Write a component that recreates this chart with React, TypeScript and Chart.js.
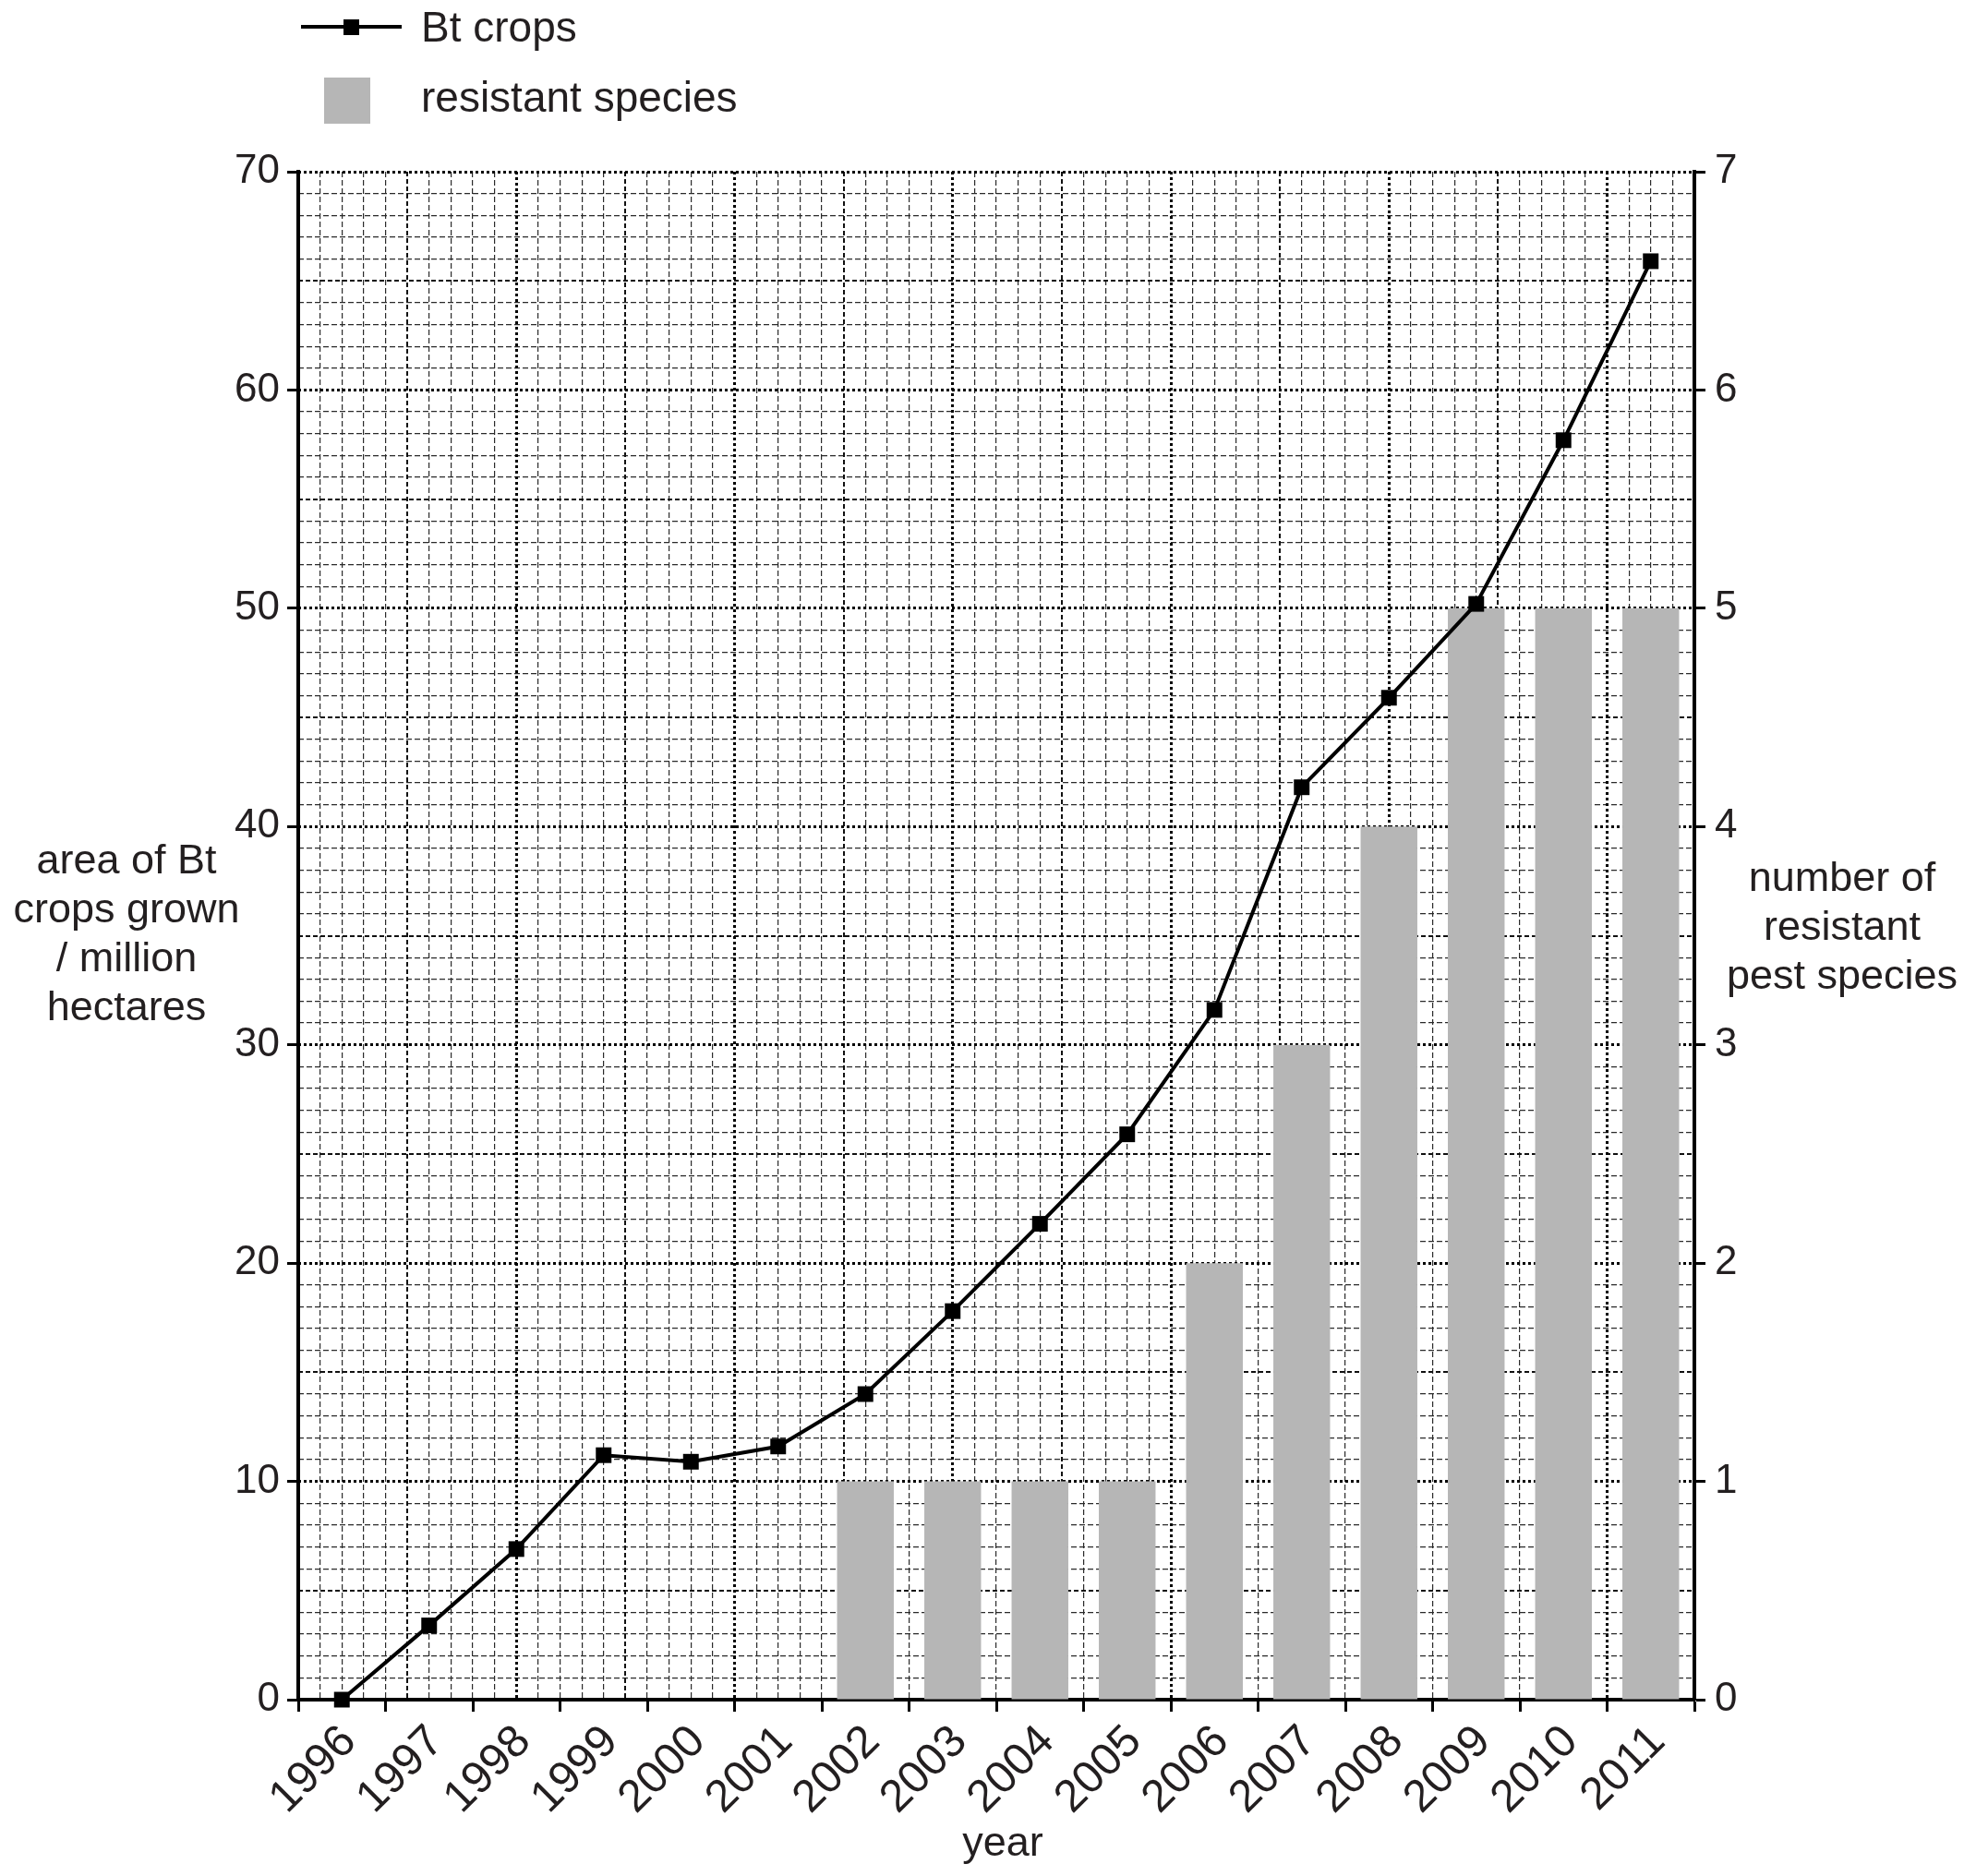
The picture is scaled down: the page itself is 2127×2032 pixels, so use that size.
import React, { useEffect, useRef } from "react";
import { Chart, registerables } from "chart.js";

Chart.register(...registerables);

// ---- data ----
const years = [
  "1996", "1997", "1998", "1999", "2000", "2001", "2002", "2003",
  "2004", "2005", "2006", "2007", "2008", "2009", "2010", "2011",
];
// area of Bt crops grown, million hectares
const btCropArea = [
  0, 3.4, 6.9, 11.2, 10.9, 11.6, 14.0, 17.8,
  21.8, 25.9, 31.6, 41.8, 45.9, 50.2, 57.7, 65.9,
];
// number of resistant pest species
const resistantSpecies = [0, 0, 0, 0, 0, 0, 1, 1, 1, 1, 2, 3, 4, 5, 5, 5];

const areaAxis = { min: 0, max: 70, step: 10 };
const speciesAxis = { min: 0, max: 7, step: 1 };

const seriesLabels = ["Bt crops", "resistant species"];
const leftTitle = ["area of Bt", "crops grown", "/ million", "hectares"];
const rightTitle = ["number of", "resistant", "pest species"];
const xTitle = "year";

// ---- styling ----
const W = 2127;
const H = 2032;
const FONT = "'Liberation Sans', Arial, Helvetica, sans-serif";
const TEXT = "#231f20";
const BAR = "#b6b6b6";
const PLOT = { left: 323, right: 1835, top: 186, bottom: 1841 };
// graph-paper cells across / down the plot
const CELLS_X = 64;
const CELLS_Y = 70;

type GridStyle = { step: number; skip: number; width: number; dash: number[]; color: string };

const gridStyles: GridStyle[] = [
  { step: 1, skip: 5, width: 1.2, dash: [6, 3], color: "#2a2a2a" },
  { step: 5, skip: 10, width: 2, dash: [5, 3], color: "#111111" },
  { step: 10, skip: 0, width: 3, dash: [3, 3], color: "#000000" },
];

function gridAxis(axis: "x" | "y", max: number, g: GridStyle) {
  return {
    type: "linear",
    axis,
    position: axis === "x" ? "bottom" : "left",
    min: 0,
    max,
    offset: false,
    display: true,
    ticks: { display: false, stepSize: g.step, maxTicksLimit: 1000, autoSkip: false },
    border: { display: false, dash: g.dash },
    grid: {
      offset: false,
      drawTicks: false,
      color: g.color,
      lineWidth: (c: any) => {
        if (!c.tick) return g.width;
        const v = Math.round(c.tick.value);
        return g.skip && v % g.skip === 0 ? 0 : g.width;
      },
    },
    afterFit: (s: any) => {
      if (axis === "x") s.height = 0;
      else s.width = 0;
    },
  };
}

const textPlugin = {
  id: "chartTexts",
  afterDraw(chart: any) {
    const ctx: CanvasRenderingContext2D = chart.ctx;
    ctx.save();
    ctx.textBaseline = "alphabetic";

    // legend: line with square marker
    ctx.strokeStyle = "#000";
    ctx.lineWidth = 4;
    ctx.beginPath();
    ctx.moveTo(326, 29);
    ctx.lineTo(435, 29);
    ctx.stroke();
    ctx.fillStyle = "#000";
    ctx.fillRect(372, 21, 17, 17);
    // legend: bar swatch
    ctx.fillStyle = BAR;
    ctx.fillRect(351, 84, 50, 50);

    ctx.fillStyle = TEXT;
    ctx.font = `46px ${FONT}`;
    ctx.textAlign = "left";
    ctx.fillText(seriesLabels[0], 456, 45);
    ctx.fillText(seriesLabels[1], 456, 121);

    // axis titles
    ctx.font = `45px ${FONT}`;
    ctx.textAlign = "center";
    leftTitle.forEach((t, i) => ctx.fillText(t, 137, 946 + i * 53));
    rightTitle.forEach((t, i) => ctx.fillText(t, 1995, 965 + i * 53));
    ctx.fillText(xTitle, 1086, 2010);
    ctx.restore();
  },
};

export default function App() {
  const canvasRef = useRef<HTMLCanvasElement | null>(null);

  useEffect(() => {
    const canvas = canvasRef.current;
    if (!canvas) return;

    const tickFont = { family: FONT, size: 44 };

    const scales: any = {};
    // graph-paper grid, finest first so heavier lines sit on top
    gridStyles.forEach((g, i) => {
      scales[`gx${i}`] = gridAxis("x", CELLS_X, g);
      scales[`gy${i}`] = gridAxis("y", CELLS_Y, g);
    });

    scales.x = {
      type: "category",
      position: "bottom",
      offset: true,
      ticks: {
        font: { family: FONT, size: 49 },
        color: TEXT,
        minRotation: 45,
        maxRotation: 45,
        autoSkip: false,
        padding: 4,
        labelOffset: 8,
      },
      grid: {
        offset: true,
        drawOnChartArea: false,
        tickLength: 13,
        tickWidth: 3,
        tickColor: "#000",
      },
      border: { display: true, width: 4, color: "#000" },
      afterFit: (s: any) => {
        s.height = H - PLOT.bottom;
      },
    };
    scales.y = {
      type: "linear",
      position: "left",
      min: areaAxis.min,
      max: areaAxis.max,
      ticks: { stepSize: areaAxis.step, font: tickFont, color: TEXT, padding: 8 },
      grid: { drawOnChartArea: false, tickLength: 12, tickWidth: 3, tickColor: "#000" },
      border: { display: true, width: 4, color: "#000" },
      afterFit: (s: any) => {
        s.width = PLOT.left;
      },
    };
    scales.y1 = {
      type: "linear",
      position: "right",
      min: speciesAxis.min,
      max: speciesAxis.max,
      ticks: { stepSize: speciesAxis.step, font: tickFont, color: TEXT, padding: 10 },
      grid: { drawOnChartArea: false, tickLength: 12, tickWidth: 3, tickColor: "#000" },
      border: { display: true, width: 4, color: "#000" },
      afterFit: (s: any) => {
        s.width = W - PLOT.right;
      },
    };

    const chart = new Chart(canvas, {
      type: "bar",
      data: {
        labels: years,
        datasets: [
          {
            type: "line",
            label: seriesLabels[0],
            data: btCropArea,
            xAxisID: "x",
            yAxisID: "y",
            borderColor: "#000",
            borderWidth: 4,
            tension: 0,
            pointStyle: "rect",
            pointRadius: 12,
            pointBorderWidth: 0,
            pointBackgroundColor: "#000",
            clip: false,
            order: 0,
          } as any,
          {
            type: "bar",
            label: seriesLabels[1],
            data: resistantSpecies,
            xAxisID: "x",
            yAxisID: "y1",
            backgroundColor: BAR,
            borderWidth: 0,
            barPercentage: 0.65,
            categoryPercentage: 1,
            order: 1,
          },
        ],
      },
      options: {
        responsive: false,
        animation: false,
        devicePixelRatio: 1,
        layout: { padding: { top: PLOT.top, left: 0, right: 0, bottom: 0 } },
        plugins: {
          legend: { display: false },
          tooltip: { enabled: false },
        },
        scales,
      } as any,
      plugins: [textPlugin],
    });

    return () => chart.destroy();
  }, []);

  return (
    <div style={{ position: "absolute", left: 0, top: 0, width: W, height: H, background: "#fff" }}>
      <canvas ref={canvasRef} width={W} height={H} style={{ width: W, height: H, display: "block" }} />
    </div>
  );
}
